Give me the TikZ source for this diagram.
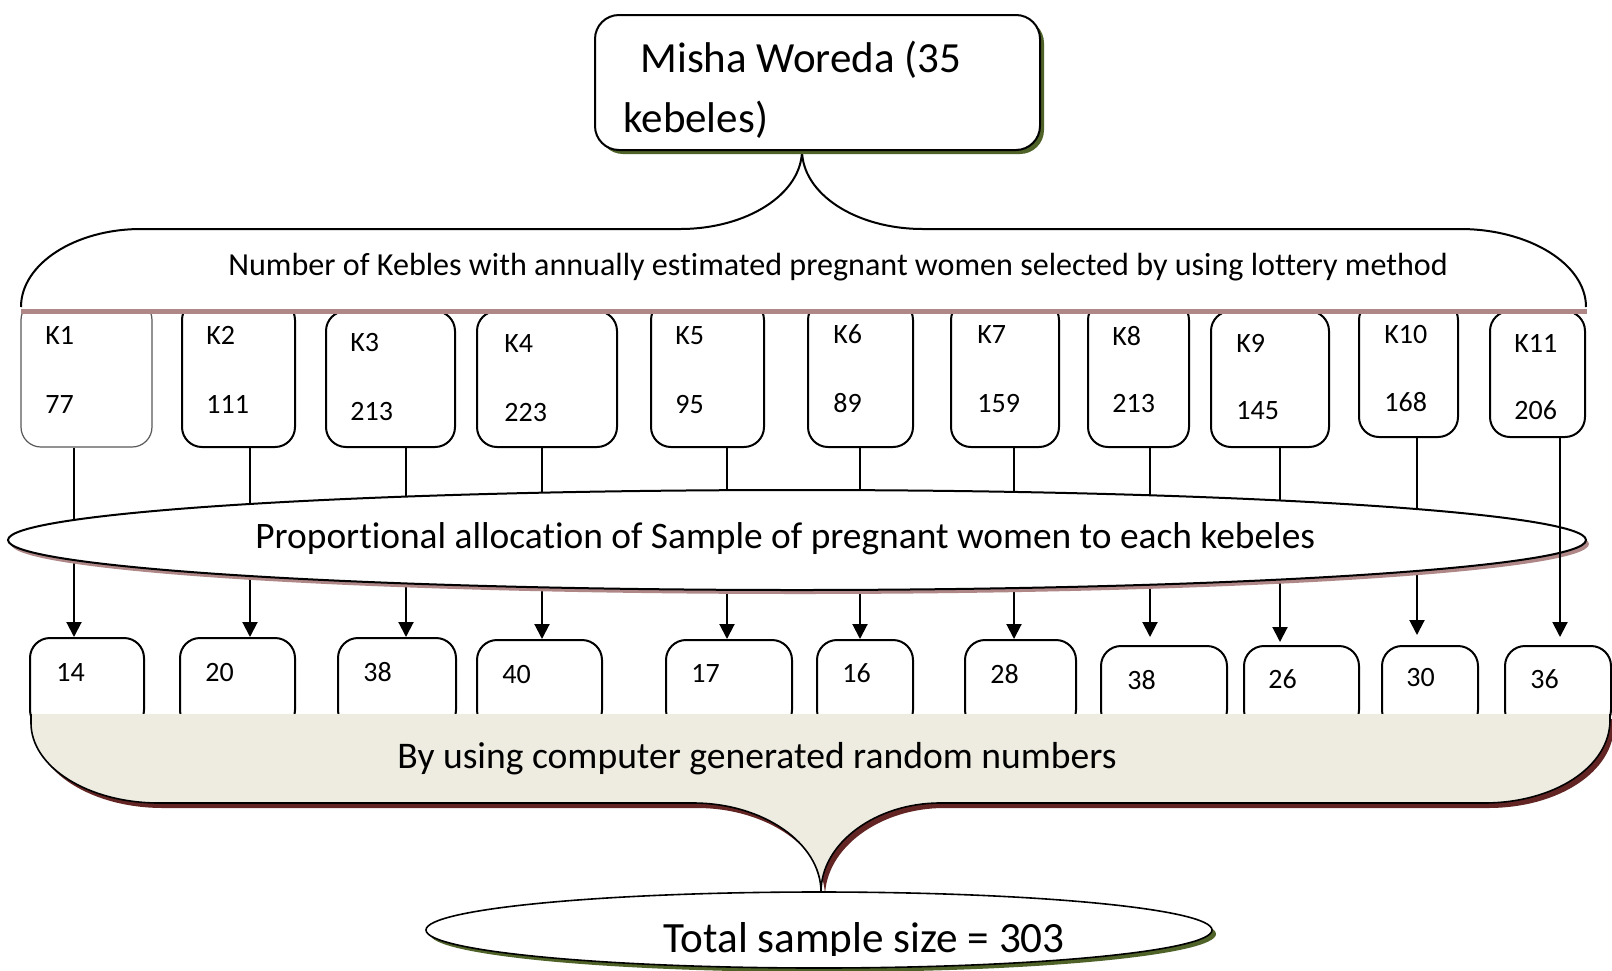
\documentclass[tikz,border=0pt]{standalone}
\usepackage{fontspec}
\setmainfont{Carlito}[Ligatures=NoCommon]
\usetikzlibrary{arrows.meta,fit,shapes.geometric,shadows}
\definecolor{myolive}{HTML}{4F6228}
\definecolor{mauve}{RGB}{175,135,135}
\definecolor{darkmaroon}{HTML}{632523}
\definecolor{beigefill}{HTML}{EEECE1}
\begin{document}
\begin{tikzpicture}[x=0.5pt,y=-0.5pt,
  kbox/.style={draw=black, line width=1pt, rounded corners=10pt, inner sep=0pt, fill=white},
  kboxthin/.style={draw=black!65, line width=0.6pt, rounded corners=10pt, inner sep=0pt, fill=white},
  smalltxt/.style={font=\fontsize{14}{16}\selectfont, anchor=base west, inner sep=0pt},
  midtxt/.style={font=\fontsize{18.7}{21}\selectfont, anchor=base west, inner sep=0pt},
  bigtxt/.style={font=\fontsize{21.5}{25}\selectfont, anchor=base west, inner sep=0pt},
  arr/.style={line width=1pt, -{Triangle[width=7.5pt,length=7.5pt]}},
  olivesh/.style={drop shadow={shadow xshift=2pt, shadow yshift=-2pt, fill=myolive, opacity=1}},
  mauvesh/.style={drop shadow={shadow xshift=1.5pt, shadow yshift=-2pt, fill=mauve, opacity=1}}
]
\useasboundingbox (0,0) rectangle (1612,970);
\fill[white] (0,0) rectangle (1612,970);

% ---- top row kebele boxes
\node[kboxthin, fit={(21,300) (152,447)}] (k1) {};
\node[kbox, fit={(182,300) (295,447)}] (k2) {};
\node[kbox, fit={(326,311) (455,447)}] (k3) {};
\node[kbox, fit={(477,311) (617,447)}] (k4) {};
\node[kbox, fit={(651,300) (764,447)}] (k5) {};
\node[kbox, fit={(808,300) (913,447)}] (k6) {};
\node[kbox, fit={(951,300) (1059,447)}] (k7) {};
\node[kbox, fit={(1088,300) (1189,447)}] (k8) {};
\node[kbox, fit={(1211,311) (1329,447)}] (k9) {};
\node[kbox, fit={(1359,300) (1458,437)}] (k10) {};
\node[kbox, fit={(1490,311) (1585,437)}] (k11) {};

\node[smalltxt] (k1a) at (45,344) {K1};    \node[smalltxt] (k1b) at (45,413) {77};
\node[smalltxt] (k2a) at (206,344) {K2};   \node[smalltxt] (k2b) at (206,413) {111};
\node[smalltxt] (k3a) at (350,351) {K3};   \node[smalltxt] (k3b) at (350,420) {213};
\node[smalltxt] (k4a) at (504,352) {K4};   \node[smalltxt] (k4b) at (504,421) {223};
\node[smalltxt] (k5a) at (675,344) {K5};   \node[smalltxt] (k5b) at (675,413) {95};
\node[smalltxt] (k6a) at (833,343) {K6};   \node[smalltxt] (k6b) at (833,412) {89};
\node[smalltxt] (k7a) at (977,343) {K7};   \node[smalltxt] (k7b) at (977,412) {159};
\node[smalltxt] (k8a) at (1112,345) {K8};  \node[smalltxt] (k8b) at (1112,412) {213};
\node[smalltxt] (k9a) at (1236,352) {K9};  \node[smalltxt] (k9b) at (1236,419) {145};
\node[smalltxt] (k10a) at (1384,343) {K10};\node[smalltxt] (k10b) at (1384,411) {168};
\node[smalltxt] (k11a) at (1514,352) {K11};\node[smalltxt] (k11b) at (1514,419) {206};

% ---- bottom row sample boxes
\node[kbox, fit={(30,638) (144,730)}] (b1) {};
\node[kbox, fit={(180,638) (295,730)}] (b2) {};
\node[kbox, fit={(338,638) (456,730)}] (b3) {};
\node[kbox, fit={(477,640) (602,730)}] (b4) {};
\node[kbox, fit={(666,640) (792,730)}] (b5) {};
\node[kbox, fit={(817,640) (913,730)}] (b6) {};
\node[kbox, fit={(965,640) (1076,730)}] (b7) {};
\node[kbox, fit={(1101,646) (1227,730)}] (b8) {};
\node[kbox, fit={(1244,646) (1359,730)}] (b9) {};
\node[kbox, fit={(1382,646) (1478,730)}] (b10) {};
\node[kbox, fit={(1505,646) (1611,730)}] (b11) {};

\node[smalltxt] (n1) at (56,681) {14};
\node[smalltxt] (n2) at (205,681) {20};
\node[smalltxt] (n3) at (363,681) {38};
\node[smalltxt] (n4) at (502,683) {40};
\node[smalltxt] (n5) at (691,682) {17};
\node[smalltxt] (n6) at (842,682) {16};
\node[smalltxt] (n7) at (990,683) {28};
\node[smalltxt] (n8) at (1127,689) {38};
\node[smalltxt] (n9) at (1268,688) {26};
\node[smalltxt] (n10) at (1406,686) {30};
\node[smalltxt] (n11) at (1530,688) {36};

% ---- line positions
\coordinate (x1) at (74,0);   \coordinate (x2) at (250,0);
\coordinate (x3) at (406,0);  \coordinate (x4) at (542,0);
\coordinate (x5) at (727,0);  \coordinate (x6) at (860,0);
\coordinate (x7) at (1014,0); \coordinate (x8) at (1150,0);
\coordinate (x9) at (1280,0); \coordinate (x10) at (1417,0);
\coordinate (x11) at (1560,0);

\draw[arr] (k1.south -| x1) -- (b1.north -| x1);
\draw[arr] (k2.south -| x2) -- (b2.north -| x2);
\draw[arr] (k3.south -| x3) -- (b3.north -| x3);
\draw[arr] (k4.south -| x4) -- (b4.north -| x4);
\draw[arr] (k5.south -| x5) -- (b5.north -| x5);
\draw[arr] (k6.south -| x6) -- (b6.north -| x6);
\draw[arr] (k7.south -| x7) -- (b7.north -| x7);
\draw[arr, shorten >=4pt] (k8.south -| x8) -- (b8.north -| x8);
\draw[arr, shorten >=1.5pt] (k9.south -| x9) -- (b9.north -| x9);
\draw[arr, shorten >=5pt] (k10.south -| x10) -- (b10.north -| x10);

% ---- brace under the top box
\fill[white] (21,309) .. controls (21,264) and (75,229) .. (141,229) -- (680,229)
  .. controls (747,229) and (802,194) .. (802,150)
  .. controls (802,194) and (856,229) .. (923,229) -- (1460,229)
  .. controls (1529,229) and (1586,264) .. (1586,309) -- cycle;
\draw[line width=1pt] (21,307) .. controls (21,264) and (75,229) .. (141,229) -- (680,229)
  .. controls (747,229) and (802,194) .. (802,150)
  .. controls (802,194) and (856,229) .. (923,229) -- (1460,229)
  .. controls (1529,229) and (1586,264) .. (1586,307);
\draw[mauve, line width=2.5pt] (21,311) -- (1587,311);
\node[smalltxt, font=\fontsize{16.05}{18}\selectfont] (selt) at (228,275) {Number of Kebles with annually estimated pregnant women selected by using lottery method};

% ---- top box
\node[kbox, rounded corners=12pt, olivesh, fit={(595,15) (1040,150)}] (top) {};
\node[bigtxt] (top1) at (640,72) {Misha Woreda (35};
\node[bigtxt] (top2) at (623,132) {kebeles)};

% ---- proportional allocation ellipse
\node[ellipse, draw, line width=1pt, fill=white, mauvesh, minimum width=789pt, minimum height=50pt, inner sep=0pt] (prop) at (797,540) {};
\node[midtxt] (propt) at (255,548) {Proportional allocation of Sample of pregnant women to each kebeles};

\draw[arr, shorten >=4pt] (k11.south -| x11) -- (b11.north -| x11);

% ---- callout with random numbers
\fill[darkmaroon, shift={(4,5)}] (31,714) -- (31,723) .. controls (31,767) and (88,803) .. (159,803) -- (693,803)
  .. controls (763,803) and (821,843) .. (821,892)
  .. controls (821,843) and (876,803) .. (940,803) -- (1484,803)
  .. controls (1554,803) and (1610,767) .. (1610,720) -- (1610,714) -- cycle;
\fill[beigefill] (31,714) -- (31,723) .. controls (31,767) and (88,803) .. (159,803) -- (693,803)
  .. controls (763,803) and (821,843) .. (821,892)
  .. controls (821,843) and (876,803) .. (940,803) -- (1484,803)
  .. controls (1554,803) and (1610,767) .. (1610,720) -- (1610,714) -- cycle;
\draw[line width=0.8pt] (31,714) -- (31,723) .. controls (31,767) and (88,803) .. (159,803) -- (693,803)
  .. controls (763,803) and (821,843) .. (821,892)
  .. controls (821,843) and (876,803) .. (940,803) -- (1484,803)
  .. controls (1554,803) and (1610,767) .. (1610,720) -- (1610,714);
\node[midtxt, font=\fontsize{18.8}{21}\selectfont] (rand) at (397,768) {By using computer generated random numbers};

% ---- total ellipse
\node[ellipse, draw, line width=0.8pt, fill=white, olivesh, minimum width=393pt, minimum height=38pt, inner sep=0pt] (total) at (819,930) {};
\begin{scope}
  \clip (0,0) rectangle (1612,955);
  \node[bigtxt, font=\fontsize{21.6}{25}\selectfont] (totalt) at (663,952) {Total sample size = 303};
\end{scope}
\end{tikzpicture}
\end{document}
